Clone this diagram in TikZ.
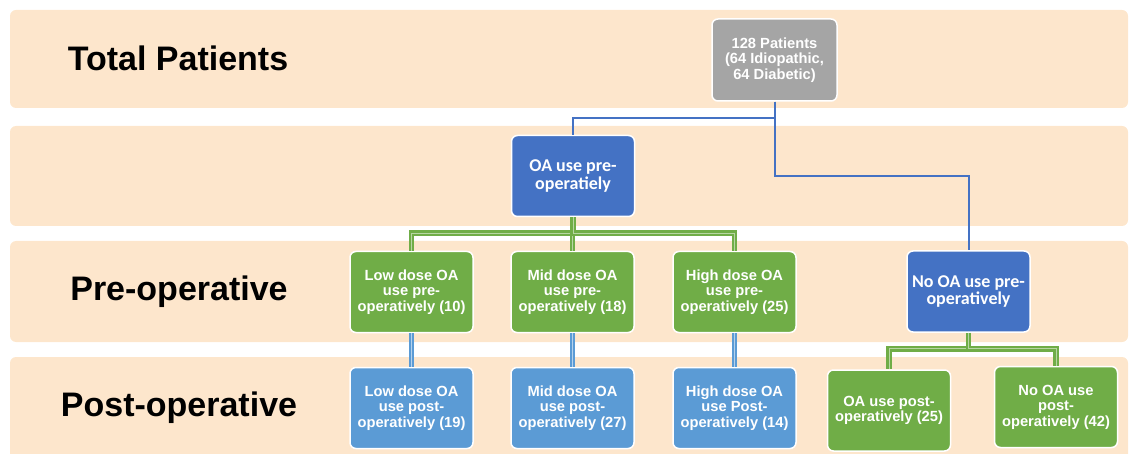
\documentclass[tikz,border=0pt]{standalone}
\usepackage{fontspec}
\setmainfont{Liberation Sans}
\newfontfamily\calibri{Carlito}
\usepackage{tikz}
\usetikzlibrary{positioning}
\definecolor{bandcol}{RGB}{253,230,204}
\definecolor{oagreen}{RGB}{112,173,71}
\definecolor{oablue}{RGB}{68,114,196}
\definecolor{postblue}{RGB}{91,155,213}
\definecolor{oagray}{RGB}{165,165,165}
\tikzset{
  band/.style={fill=bandcol, draw=none, rounded corners=6pt},
  rowlabel/.style={font=\fontsize{34}{36}\selectfont\bfseries, text=black},
  box/.style={draw=white, line width=1.5pt, rounded corners=6pt, text=white,
    minimum width=123pt, minimum height=81pt, align=center, inner sep=2pt,
    font=\fontsize{14.7}{15.5}\selectfont\bfseries},
  greybox/.style={box, fill=oagray},
  greenbox/.style={box, fill=oagreen},
  bluebox/.style={box, fill=oablue, font=\calibri\fontsize{18}{17.5}\selectfont\bfseries},
  postbox/.style={box, fill=postblue},
  blueline/.style={draw=oablue, line width=2pt},
  greenline/.style={draw=oagreen, line width=2.6pt, double=oagreen!50!white, double distance=0.6pt},
  postline/.style={draw=postblue, line width=2.2pt, double=postblue!45!white, double distance=0.6pt},
}
\begin{document}
\begin{tikzpicture}[x=1pt,y=-1pt]
\useasboundingbox (0,0) rectangle (1132,454);
% bands
\fill[band] (10,10) rectangle (1128,108);
\fill[band] (10,126) rectangle (1128,226);
\fill[band] (10,241) rectangle (1128,342);
\fill[band] (10,357) rectangle (1128,460);
\node[rowlabel] (ltotal) at (178,58) {Total Patients};
\node[rowlabel] (lpre) at (179,292) {Pre-operative};
\node[rowlabel] (lpost) at (179,408) {Post-operative};
% boxes
\node[greybox, minimum width=125pt, minimum height=82pt] (total) at (774.5,60) {128 Patients\\(64 Idiopathic,\\64 Diabetic)};
\node[bluebox] (oa) at (573,176) {OA use pre-\\operatiely};
\node[bluebox] (nooa) at (968.5,291.5) {No OA use pre-\\operatively};
\node[greenbox] (low) at (411.5,292) {Low dose OA\\use pre-\\operatively (10)};
\node[greenbox] (mid) at (572.5,292) {Mid dose OA\\use pre-\\operatively (18)};
\node[greenbox] (high) at (734.5,292) {High dose OA\\use pre-\\operatively (25)};
\node[postbox] (lowpost) at (411.5,408) {Low dose OA\\use post-\\operatively (19)};
\node[postbox] (midpost) at (572.5,408) {Mid dose OA\\use post-\\operatively (27)};
\node[postbox] (highpost) at (734.5,408) {High dose OA\\use Post-\\operatively (14)};
\node[greenbox] (oapost) at (889,410.5) {OA use post-\\operatively (25)};
\node[greenbox] (nooapost) at (1056,407) {No OA use\\post-\\operatively (42)};
% connectors
\coordinate (bend) at (774.5,176);
\draw[blueline] (total.south) -- ++(0,16) -| (oa.north);
\draw[blueline] (total.south) -- (bend) -| (nooa.north);
\foreach \n in {low,mid,high}{
\draw[greenline] (oa.south) -- ++(0,16) -| (\n.north);
\draw[postline] (\n.south) -- (\n post.north);
}
\foreach \n in {oapost,nooapost}{
\draw[greenline] (nooa.south) -- ++(0,16) -| (\n.north);
}
\end{tikzpicture}
\end{document}
